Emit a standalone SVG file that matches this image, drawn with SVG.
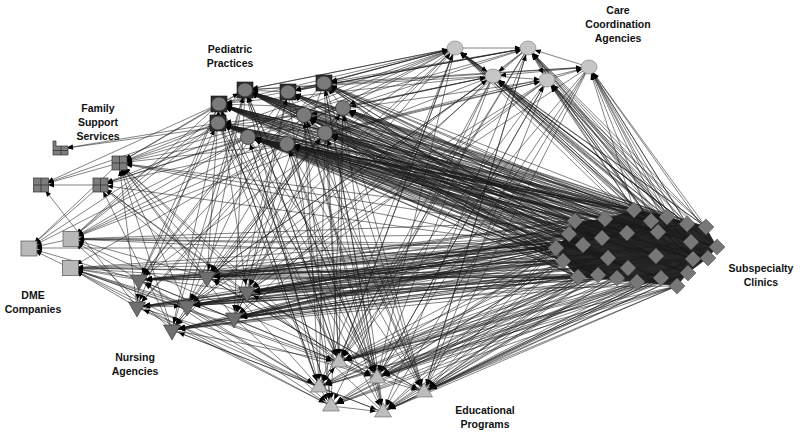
<svg xmlns="http://www.w3.org/2000/svg" xmlns:xlink="http://www.w3.org/1999/xlink" width="800" height="435" viewBox="0 0 800 435">
<style>
#edges path{fill:none;stroke:#1c1c1c;stroke-width:.55;marker-end:url(#ah)}
.lbl{font-family:"Liberation Sans",Arial,sans-serif;font-weight:bold;font-size:10.5px;fill:#111;text-anchor:middle}
.fr{fill:#2e2e2e;stroke:#111;stroke-width:.6}
.pc{fill:#7a7a7a;stroke:#2a2a2a;stroke-width:.7}
</style>
<defs>
<marker id="ah" markerWidth="6" markerHeight="5" refX="13" refY="2.5" orient="auto" markerUnits="userSpaceOnUse" overflow="visible"><path d="M0 0L6 2.5L0 5z" fill="#000"/></marker>
<polygon id="dia" points="0,-8 8,0 0,8 -8,0" fill="#777" stroke="#4a4a4a" stroke-width=".5"/>
<polygon id="tdown" points="-8.5,-5 8.5,-5 0,10" fill="#6f6f6f" stroke="#333" stroke-width=".6"/>
<polygon id="tup" points="0,-9 8.5,5 -8.5,5" fill="#bdbdbd" stroke="#666" stroke-width=".6"/>
<ellipse id="cc" rx="8" ry="7" fill="#c6c6c6" stroke="#777" stroke-width=".6"/>
<rect id="dme" x="-8" y="-7.5" width="16" height="15" fill="#b8b8b8" stroke="#555" stroke-width=".7"/>
<g id="fam"><rect x="-7.5" y="-7" width="15" height="14" fill="#7d7d7d" stroke="#333" stroke-width=".7"/><path d="M0 -7V7M-7.5 0H7.5" stroke="#333" stroke-width=".8"/></g>
</defs>
<rect width="800" height="435" fill="#fff"/>
<g id="edges">
<polygon points="556,248 569,234 575,221 605,219 634,210 667,217 706,227 717,247 708,258 688,273 677,286 637,282 578,277 563,261" fill="#111" opacity=".9" style="stroke:none"/>
<path d="M575 221L219 104"/><path d="M605 219L219 104"/><path d="M634 210L219 104"/><path d="M651 221L219 104"/><path d="M667 217L219 104"/><path d="M687 224L219 104"/><path d="M569 234L219 104"/><path d="M602 238L219 104"/><path d="M627 233L219 104"/><path d="M658 232L219 104"/><path d="M556 248L219 104"/><path d="M583 245L219 104"/><path d="M608 258L219 104"/><path d="M656 256L219 104"/><path d="M563 261L219 104"/><path d="M628 268L219 104"/><path d="M578 277L219 104"/><path d="M598 275L219 104"/><path d="M617 278L219 104"/><path d="M661 278L219 104"/>
<path d="M575 221L245 90"/><path d="M605 219L245 90"/><path d="M634 210L245 90"/><path d="M651 221L245 90"/><path d="M667 217L245 90"/><path d="M687 224L245 90"/><path d="M569 234L245 90"/><path d="M602 238L245 90"/><path d="M627 233L245 90"/><path d="M658 232L245 90"/><path d="M556 248L245 90"/><path d="M583 245L245 90"/><path d="M608 258L245 90"/><path d="M656 256L245 90"/><path d="M563 261L245 90"/><path d="M628 268L245 90"/><path d="M578 277L245 90"/><path d="M598 275L245 90"/><path d="M617 278L245 90"/><path d="M661 278L245 90"/>
<path d="M575 221L218 123"/><path d="M605 219L218 123"/><path d="M634 210L218 123"/><path d="M651 221L218 123"/><path d="M667 217L218 123"/><path d="M687 224L218 123"/><path d="M569 234L218 123"/><path d="M602 238L218 123"/><path d="M627 233L218 123"/><path d="M658 232L218 123"/><path d="M556 248L218 123"/><path d="M583 245L218 123"/><path d="M608 258L218 123"/><path d="M656 256L218 123"/><path d="M563 261L218 123"/><path d="M628 268L218 123"/><path d="M578 277L218 123"/><path d="M598 275L218 123"/><path d="M617 278L218 123"/><path d="M661 278L218 123"/>
<path d="M575 221L248 137"/><path d="M605 219L248 137"/><path d="M634 210L248 137"/><path d="M651 221L248 137"/><path d="M667 217L248 137"/><path d="M687 224L248 137"/><path d="M569 234L248 137"/><path d="M602 238L248 137"/><path d="M627 233L248 137"/><path d="M658 232L248 137"/><path d="M556 248L248 137"/><path d="M583 245L248 137"/><path d="M608 258L248 137"/><path d="M656 256L248 137"/><path d="M563 261L248 137"/><path d="M628 268L248 137"/><path d="M578 277L248 137"/><path d="M598 275L248 137"/><path d="M617 278L248 137"/><path d="M661 278L248 137"/>
<path d="M706 227L219 104"/><path d="M706 227L245 90"/><path d="M706 227L218 123"/><path d="M706 227L248 137"/><path d="M717 247L219 104"/><path d="M717 247L245 90"/><path d="M717 247L218 123"/><path d="M717 247L248 137"/><path d="M708 258L219 104"/><path d="M708 258L245 90"/><path d="M708 258L218 123"/><path d="M708 258L248 137"/><path d="M693 259L219 104"/><path d="M693 259L245 90"/><path d="M693 259L218 123"/><path d="M693 259L248 137"/><path d="M688 273L219 104"/><path d="M688 273L248 137"/>
<path d="M575 221L288 92"/><path d="M634 210L288 92"/><path d="M667 217L288 92"/><path d="M706 227L288 92"/><path d="M602 238L288 92"/><path d="M658 232L288 92"/><path d="M717 247L288 92"/><path d="M583 245L288 92"/><path d="M656 256L288 92"/><path d="M708 258L288 92"/><path d="M628 268L288 92"/><path d="M578 277L288 92"/>
<path d="M575 221L343 108"/><path d="M634 210L343 108"/><path d="M667 217L343 108"/><path d="M706 227L343 108"/><path d="M602 238L343 108"/><path d="M658 232L343 108"/><path d="M717 247L343 108"/><path d="M583 245L343 108"/><path d="M656 256L343 108"/><path d="M708 258L343 108"/><path d="M628 268L343 108"/><path d="M578 277L343 108"/>
<path d="M575 221L287 144"/><path d="M634 210L287 144"/><path d="M667 217L287 144"/><path d="M706 227L287 144"/><path d="M602 238L287 144"/><path d="M658 232L287 144"/><path d="M717 247L287 144"/><path d="M583 245L287 144"/><path d="M656 256L287 144"/><path d="M708 258L287 144"/><path d="M628 268L287 144"/><path d="M578 277L287 144"/>
<path d="M575 221L207 277"/><path d="M634 210L207 277"/><path d="M667 217L207 277"/><path d="M706 227L207 277"/><path d="M602 238L207 277"/><path d="M658 232L207 277"/><path d="M717 247L207 277"/><path d="M583 245L207 277"/><path d="M656 256L207 277"/><path d="M708 258L207 277"/><path d="M628 268L207 277"/><path d="M578 277L207 277"/>
<path d="M575 221L234 318"/><path d="M634 210L234 318"/><path d="M667 217L234 318"/><path d="M706 227L234 318"/><path d="M602 238L234 318"/><path d="M658 232L234 318"/><path d="M717 247L234 318"/><path d="M583 245L234 318"/><path d="M656 256L234 318"/><path d="M708 258L234 318"/><path d="M628 268L234 318"/><path d="M578 277L234 318"/>
<path d="M605 219L324 83"/><path d="M651 221L324 83"/><path d="M687 224L324 83"/><path d="M569 234L324 83"/><path d="M627 233L324 83"/><path d="M691 242L324 83"/><path d="M556 248L324 83"/><path d="M608 258L324 83"/><path d="M693 259L324 83"/><path d="M563 261L324 83"/><path d="M688 273L324 83"/><path d="M598 275L324 83"/>
<path d="M605 219L304 115"/><path d="M651 221L304 115"/><path d="M687 224L304 115"/><path d="M569 234L304 115"/><path d="M627 233L304 115"/><path d="M691 242L304 115"/><path d="M556 248L304 115"/><path d="M608 258L304 115"/><path d="M693 259L304 115"/><path d="M563 261L304 115"/><path d="M688 273L304 115"/><path d="M598 275L304 115"/>
<path d="M605 219L325 133"/><path d="M651 221L325 133"/><path d="M687 224L325 133"/><path d="M569 234L325 133"/><path d="M627 233L325 133"/><path d="M691 242L325 133"/><path d="M556 248L325 133"/><path d="M608 258L325 133"/><path d="M693 259L325 133"/><path d="M563 261L325 133"/><path d="M688 273L325 133"/><path d="M598 275L325 133"/>
<path d="M605 219L247 292"/><path d="M651 221L247 292"/><path d="M687 224L247 292"/><path d="M569 234L247 292"/><path d="M627 233L247 292"/><path d="M691 242L247 292"/><path d="M556 248L247 292"/><path d="M608 258L247 292"/><path d="M693 259L247 292"/><path d="M563 261L247 292"/><path d="M688 273L247 292"/><path d="M598 275L247 292"/>
<path d="M605 219L187 306"/><path d="M651 221L187 306"/><path d="M687 224L187 306"/><path d="M569 234L187 306"/><path d="M627 233L187 306"/><path d="M691 242L187 306"/><path d="M556 248L187 306"/><path d="M608 258L187 306"/><path d="M693 259L187 306"/><path d="M563 261L187 306"/><path d="M688 273L187 306"/><path d="M598 275L187 306"/>
<path d="M556 248L139 280"/><path d="M563 261L139 280"/><path d="M578 277L139 280"/><path d="M569 234L139 280"/><path d="M583 245L139 280"/><path d="M598 275L139 280"/><path d="M608 258L139 280"/><path d="M602 238L139 280"/><path d="M575 221L139 280"/><path d="M627 233L139 280"/>
<path d="M556 248L137 307"/><path d="M563 261L137 307"/><path d="M578 277L137 307"/><path d="M569 234L137 307"/><path d="M583 245L137 307"/><path d="M598 275L137 307"/><path d="M608 258L137 307"/><path d="M602 238L137 307"/>
<path d="M556 248L172 330"/><path d="M563 261L172 330"/><path d="M578 277L172 330"/><path d="M569 234L172 330"/><path d="M583 245L172 330"/><path d="M598 275L172 330"/><path d="M608 258L172 330"/><path d="M602 238L172 330"/><path d="M617 278L172 330"/><path d="M637 282L172 330"/>
<path d="M661 278L234 318"/><path d="M677 286L247 292"/><path d="M617 278L187 306"/><path d="M661 278L207 277"/>
<path d="M556 248L339 362"/><path d="M563 261L339 362"/><path d="M578 277L339 362"/><path d="M598 275L339 362"/><path d="M617 278L339 362"/><path d="M637 282L339 362"/><path d="M661 278L339 362"/><path d="M677 286L339 362"/><path d="M608 258L339 362"/><path d="M628 268L339 362"/>
<path d="M556 248L377 378"/><path d="M563 261L377 378"/><path d="M578 277L377 378"/><path d="M598 275L377 378"/><path d="M617 278L377 378"/><path d="M637 282L377 378"/><path d="M661 278L377 378"/><path d="M677 286L377 378"/><path d="M608 258L377 378"/><path d="M628 268L377 378"/>
<path d="M556 248L424 392"/><path d="M563 261L424 392"/><path d="M578 277L424 392"/><path d="M598 275L424 392"/><path d="M617 278L424 392"/><path d="M637 282L424 392"/><path d="M661 278L424 392"/><path d="M677 286L424 392"/><path d="M608 258L424 392"/><path d="M628 268L424 392"/>
<path d="M556 248L319 387"/><path d="M563 261L319 387"/><path d="M578 277L319 387"/><path d="M598 275L319 387"/><path d="M677 286L319 387"/><path d="M688 273L319 387"/>
<path d="M556 248L331 406"/><path d="M563 261L331 406"/><path d="M578 277L331 406"/><path d="M598 275L331 406"/><path d="M677 286L331 406"/><path d="M688 273L331 406"/>
<path d="M556 248L383 412"/><path d="M563 261L383 412"/><path d="M578 277L383 412"/><path d="M598 275L383 412"/><path d="M677 286L383 412"/><path d="M688 273L383 412"/>
<path d="M708 258L339 362"/><path d="M693 259L377 378"/><path d="M717 247L424 392"/><path d="M688 273L424 392"/><path d="M688 273L339 362"/><path d="M688 273L377 378"/><path d="M693 259L424 392"/><path d="M708 258L383 412"/><path d="M661 278L319 387"/><path d="M637 282L331 406"/><path d="M617 278L383 412"/><path d="M661 278L383 412"/>
<path d="M634 210L455 48"/><path d="M651 221L455 48"/><path d="M667 217L455 48"/><path d="M687 224L455 48"/><path d="M706 227L455 48"/><path d="M691 242L455 48"/><path d="M717 247L455 48"/><path d="M693 259L455 48"/><path d="M708 258L455 48"/><path d="M688 273L455 48"/>
<path d="M634 210L528 48"/><path d="M651 221L528 48"/><path d="M667 217L528 48"/><path d="M687 224L528 48"/><path d="M706 227L528 48"/><path d="M691 242L528 48"/><path d="M717 247L528 48"/><path d="M693 259L528 48"/><path d="M708 258L528 48"/><path d="M688 273L528 48"/>
<path d="M634 210L493 76"/><path d="M651 221L493 76"/><path d="M667 217L493 76"/><path d="M687 224L493 76"/><path d="M706 227L493 76"/><path d="M691 242L493 76"/><path d="M717 247L493 76"/><path d="M693 259L493 76"/><path d="M708 258L493 76"/><path d="M688 273L493 76"/>
<path d="M634 210L547 80"/><path d="M651 221L547 80"/><path d="M667 217L547 80"/><path d="M687 224L547 80"/><path d="M706 227L547 80"/><path d="M691 242L547 80"/><path d="M717 247L547 80"/><path d="M693 259L547 80"/><path d="M708 258L547 80"/><path d="M688 273L547 80"/>
<path d="M634 210L589 67"/><path d="M651 221L589 67"/><path d="M667 217L589 67"/><path d="M687 224L589 67"/><path d="M706 227L589 67"/><path d="M691 242L589 67"/><path d="M717 247L589 67"/><path d="M693 259L589 67"/><path d="M708 258L589 67"/><path d="M688 273L589 67"/>
<path d="M455 48L245 90"/><path d="M455 48L324 83"/><path d="M455 48L288 92"/><path d="M528 48L324 83"/><path d="M528 48L219 104"/><path d="M493 76L343 108"/><path d="M493 76L245 90"/><path d="M547 80L304 115"/><path d="M589 67L324 83"/><path d="M455 48L343 108"/><path d="M528 48L288 92"/><path d="M493 76L219 104"/>
<path d="M245 90L455 48"/><path d="M324 83L455 48"/><path d="M219 104L455 48"/><path d="M288 92L528 48"/><path d="M343 108L528 48"/><path d="M343 108L493 76"/><path d="M304 115L493 76"/><path d="M325 133L547 80"/><path d="M287 144L547 80"/><path d="M245 90L589 67"/><path d="M325 133L589 67"/><path d="M248 137L455 48"/>
<path d="M455 48L528 48"/><path d="M493 76L547 80"/><path d="M547 80L589 67"/><path d="M589 67L528 48"/><path d="M493 76L455 48"/><path d="M528 48L547 80"/><path d="M455 48L493 76"/><path d="M589 67L493 76"/><path d="M528 48L493 76"/>
<path d="M455 48L207 277"/><path d="M455 48L339 362"/><path d="M493 76L377 378"/><path d="M528 48L424 392"/><path d="M547 80L247 292"/><path d="M493 76L234 318"/><path d="M589 67L424 392"/><path d="M547 80L339 362"/><path d="M528 48L187 306"/><path d="M455 48L71 239"/><path d="M528 48L319 387"/><path d="M589 67L377 378"/><path d="M455 48L119 163"/>
<path d="M455 48L139 280"/><path d="M455 48L172 330"/><path d="M455 48L319 387"/><path d="M455 48L377 378"/><path d="M528 48L339 362"/><path d="M528 48L247 292"/><path d="M528 48L383 412"/><path d="M493 76L207 277"/><path d="M493 76L339 362"/><path d="M493 76L331 406"/><path d="M547 80L424 392"/><path d="M547 80L377 378"/><path d="M547 80L187 306"/><path d="M589 67L339 362"/><path d="M589 67L383 412"/><path d="M589 67L247 292"/><path d="M493 76L71 239"/><path d="M528 48L119 163"/><path d="M455 48L100 185"/><path d="M547 80L234 318"/>
<path d="M339 362L455 48"/><path d="M424 392L528 48"/><path d="M207 277L493 76"/><path d="M377 378L547 80"/><path d="M247 292L455 48"/>
<path d="M304 115L60 149"/><path d="M218 123L60 149"/>
<path d="M218 123L119 163"/><path d="M248 137L119 163"/><path d="M219 104L119 163"/><path d="M287 144L119 163"/><path d="M207 277L119 163"/><path d="M187 306L119 163"/><path d="M339 362L119 163"/><path d="M319 387L119 163"/><path d="M556 248L119 163"/><path d="M245 90L119 163"/><path d="M137 307L119 163"/><path d="M172 330L119 163"/><path d="M575 221L119 163"/><path d="M569 234L119 163"/><path d="M234 318L119 163"/><path d="M383 412L119 163"/>
<path d="M119 163L41 185"/><path d="M218 123L41 185"/><path d="M219 104L41 185"/><path d="M100 185L41 185"/><path d="M137 307L41 185"/>
<path d="M248 137L100 185"/><path d="M247 292L100 185"/><path d="M339 362L100 185"/><path d="M287 144L100 185"/><path d="M556 248L100 185"/><path d="M343 108L100 185"/><path d="M207 277L100 185"/><path d="M172 330L100 185"/>
<path d="M556 248L71 239"/><path d="M563 261L71 239"/><path d="M569 234L71 239"/><path d="M583 245L71 239"/><path d="M575 221L71 239"/>
<path d="M578 277L70 268"/><path d="M556 248L70 268"/><path d="M563 261L70 268"/><path d="M598 275L70 268"/><path d="M569 234L70 268"/>
<path d="M218 123L71 239"/><path d="M219 104L71 239"/><path d="M248 137L71 239"/><path d="M207 277L71 239"/><path d="M139 280L71 239"/><path d="M287 144L71 239"/><path d="M245 90L71 239"/><path d="M172 330L71 239"/><path d="M424 392L71 239"/>
<path d="M287 144L70 268"/><path d="M187 306L70 268"/><path d="M339 362L70 268"/><path d="M319 387L70 268"/><path d="M247 292L70 268"/><path d="M207 277L70 268"/><path d="M234 318L70 268"/><path d="M331 406L70 268"/><path d="M137 307L70 268"/><path d="M139 280L70 268"/><path d="M377 378L70 268"/>
<path d="M71 239L29 248"/><path d="M70 268L29 248"/><path d="M218 123L29 248"/><path d="M139 280L29 248"/><path d="M248 137L29 248"/><path d="M119 163L29 248"/><path d="M101 185L29 248"/><path d="M556 248L29 248"/>
<path d="M219 104L139 280"/><path d="M219 104L137 307"/><path d="M245 90L207 277"/><path d="M288 92L187 306"/><path d="M324 83L247 292"/><path d="M218 123L172 330"/><path d="M304 115L234 318"/><path d="M343 108L207 277"/><path d="M248 137L139 280"/><path d="M287 144L137 307"/><path d="M325 133L172 330"/><path d="M245 90L234 318"/><path d="M288 92L139 280"/>
<path d="M324 83L139 280"/><path d="M343 108L187 306"/><path d="M304 115L137 307"/><path d="M325 133L247 292"/><path d="M288 92L234 318"/><path d="M245 90L172 330"/><path d="M219 104L247 292"/><path d="M287 144L207 277"/>
<path d="M219 104L339 362"/><path d="M245 90L319 387"/><path d="M288 92L331 406"/><path d="M324 83L377 378"/><path d="M218 123L339 362"/><path d="M304 115L383 412"/><path d="M343 108L424 392"/><path d="M248 137L331 406"/><path d="M287 144L339 362"/><path d="M325 133L319 387"/><path d="M324 83L424 392"/><path d="M343 108L339 362"/><path d="M245 90L377 378"/><path d="M304 115L319 387"/><path d="M219 104L383 412"/><path d="M248 137L377 378"/><path d="M287 144L424 392"/><path d="M325 133L383 412"/><path d="M218 123L319 387"/>
<path d="M288 92L424 392"/><path d="M324 83L339 362"/><path d="M304 115L377 378"/><path d="M343 108L331 406"/><path d="M325 133L339 362"/><path d="M287 144L377 378"/><path d="M245 90L339 362"/><path d="M219 104L319 387"/><path d="M248 137L424 392"/><path d="M218 123L377 378"/>
<path d="M207 277L219 104"/><path d="M187 306L245 90"/><path d="M247 292L288 92"/><path d="M139 280L218 123"/><path d="M339 362L245 90"/><path d="M377 378L324 83"/><path d="M424 392L304 115"/><path d="M331 406L248 137"/><path d="M383 412L287 144"/><path d="M234 318L343 108"/><path d="M172 330L325 133"/>
<path d="M383 412L343 108"/><path d="M424 392L325 133"/><path d="M319 387L219 104"/><path d="M331 406L304 115"/><path d="M377 378L245 90"/>
<path d="M139 280L319 387"/><path d="M137 307L331 406"/><path d="M172 330L339 362"/><path d="M207 277L377 378"/><path d="M187 306L319 387"/><path d="M247 292L424 392"/><path d="M234 318L331 406"/><path d="M172 330L383 412"/><path d="M139 280L339 362"/><path d="M137 307L377 378"/><path d="M339 362L139 280"/><path d="M377 378L207 277"/><path d="M319 387L137 307"/><path d="M424 392L247 292"/><path d="M383 412L172 330"/><path d="M331 406L139 280"/>
<path d="M139 280L137 307"/><path d="M207 277L187 306"/><path d="M187 306L172 330"/><path d="M247 292L234 318"/><path d="M137 307L187 306"/><path d="M207 277L139 280"/><path d="M234 318L172 330"/><path d="M247 292L207 277"/>
<path d="M339 362L319 387"/><path d="M319 387L331 406"/><path d="M377 378L383 412"/><path d="M339 362L377 378"/><path d="M331 406L383 412"/><path d="M424 392L383 412"/><path d="M377 378L424 392"/><path d="M319 387L339 362"/>
<path d="M219 104L245 90"/><path d="M218 123L219 104"/><path d="M288 92L245 90"/><path d="M324 83L288 92"/><path d="M304 115L245 90"/><path d="M343 108L324 83"/><path d="M248 137L218 123"/><path d="M287 144L248 137"/><path d="M325 133L304 115"/><path d="M304 115L218 123"/><path d="M343 108L219 104"/><path d="M325 133L218 123"/>
</g>
<g id="pediatric-practices">
<g id="P1"><rect class="fr" x="211" y="96" width="16" height="16"/><ellipse class="pc" cx="219" cy="104" rx="7.5" ry="7"/></g>
<g id="P2"><rect class="fr" x="237" y="82" width="16" height="16"/><ellipse class="pc" cx="245" cy="90" rx="7.5" ry="7"/></g>
<g id="P3"><rect class="fr" x="280" y="84" width="16" height="16"/><ellipse class="pc" cx="288" cy="92" rx="7.5" ry="7"/></g>
<g id="P4"><rect class="fr" x="316" y="75" width="16" height="16"/><ellipse class="pc" cx="324" cy="83" rx="7.5" ry="7"/></g>
<g id="P5"><rect class="fr" x="210" y="115" width="16" height="16"/><ellipse class="pc" cx="218" cy="123" rx="7.5" ry="7"/></g>
<g id="P6"><ellipse class="pc" cx="304" cy="115" rx="7.5" ry="7.5"/></g>
<g id="P7"><ellipse class="pc" cx="343" cy="108" rx="7.5" ry="7.5"/></g>
<g id="P8"><ellipse class="pc" cx="248" cy="137" rx="7.5" ry="7.5"/></g>
<g id="P9"><ellipse class="pc" cx="287" cy="144" rx="7.5" ry="7.5"/></g>
<g id="P10"><ellipse class="pc" cx="325" cy="133" rx="7.5" ry="7.5"/></g>
</g>
<g id="care-coordination-agencies">
<g id="C1"><use xlink:href="#cc" href="#cc" x="455" y="48"/></g>
<g id="C2"><use xlink:href="#cc" href="#cc" x="528" y="48"/></g>
<g id="C3"><use xlink:href="#cc" href="#cc" x="493" y="76"/></g>
<g id="C4"><use xlink:href="#cc" href="#cc" x="547" y="80"/></g>
<g id="C5"><use xlink:href="#cc" href="#cc" x="589" y="67"/></g>
</g>
<g id="family-support-services">
<g id="F1"><path d="M53 141H56V146H68V155H53Z" fill="#7d7d7d" stroke="#333" stroke-width=".7"/><path d="M61 146V155M53 150.5H68" stroke="#333" stroke-width=".8"/></g>
<g id="F2"><use xlink:href="#fam" href="#fam" x="119.5" y="163"/></g>
<g id="F3"><use xlink:href="#fam" href="#fam" x="41" y="185"/></g>
<g id="F4"><use xlink:href="#fam" href="#fam" x="100.5" y="185"/></g>
</g>
<g id="dme-companies">
<g id="D1"><use xlink:href="#dme" href="#dme" x="29" y="248.5"/></g>
<g id="D2"><use xlink:href="#dme" href="#dme" x="71" y="239"/></g>
<g id="D3"><use xlink:href="#dme" href="#dme" x="70.5" y="268"/></g>
</g>
<g id="nursing-agencies">
<g id="N1"><use xlink:href="#tdown" href="#tdown" x="139" y="280"/></g>
<g id="N2"><use xlink:href="#tdown" href="#tdown" x="137" y="307"/></g>
<g id="N3"><use xlink:href="#tdown" href="#tdown" x="172" y="330"/></g>
<g id="N4"><use xlink:href="#tdown" href="#tdown" x="207" y="277"/></g>
<g id="N5"><use xlink:href="#tdown" href="#tdown" x="187" y="306"/></g>
<g id="N6"><use xlink:href="#tdown" href="#tdown" x="247" y="292"/></g>
<g id="N7"><use xlink:href="#tdown" href="#tdown" x="234" y="318"/></g>
</g>
<g id="educational-programs">
<g id="E1"><use xlink:href="#tup" href="#tup" x="339" y="362"/></g>
<g id="E2"><use xlink:href="#tup" href="#tup" x="319" y="387"/></g>
<g id="E3"><use xlink:href="#tup" href="#tup" x="331" y="406"/></g>
<g id="E4"><use xlink:href="#tup" href="#tup" x="377" y="378"/></g>
<g id="E5"><use xlink:href="#tup" href="#tup" x="383" y="412"/></g>
<g id="E6"><use xlink:href="#tup" href="#tup" x="424" y="392"/></g>
</g>
<g id="subspecialty-clinics">
<g id="S1"><use xlink:href="#dia" href="#dia" x="575" y="221"/></g>
<g id="S2"><use xlink:href="#dia" href="#dia" x="605" y="219"/></g>
<g id="S3"><use xlink:href="#dia" href="#dia" x="634" y="210"/></g>
<g id="S4"><use xlink:href="#dia" href="#dia" x="651" y="221"/></g>
<g id="S5"><use xlink:href="#dia" href="#dia" x="667" y="217"/></g>
<g id="S6"><use xlink:href="#dia" href="#dia" x="687" y="224"/></g>
<g id="S7"><use xlink:href="#dia" href="#dia" x="706" y="227"/></g>
<g id="S8"><use xlink:href="#dia" href="#dia" x="569" y="234"/></g>
<g id="S9"><use xlink:href="#dia" href="#dia" x="602" y="238"/></g>
<g id="S10"><use xlink:href="#dia" href="#dia" x="627" y="233"/></g>
<g id="S11"><use xlink:href="#dia" href="#dia" x="658" y="232"/></g>
<g id="S12"><use xlink:href="#dia" href="#dia" x="691" y="242"/></g>
<g id="S13"><use xlink:href="#dia" href="#dia" x="717" y="247"/></g>
<g id="S14"><use xlink:href="#dia" href="#dia" x="556" y="248"/></g>
<g id="S15"><use xlink:href="#dia" href="#dia" x="583" y="245"/></g>
<g id="S16"><use xlink:href="#dia" href="#dia" x="608" y="258"/></g>
<g id="S17"><use xlink:href="#dia" href="#dia" x="656" y="256"/></g>
<g id="S18"><use xlink:href="#dia" href="#dia" x="693" y="259"/></g>
<g id="S19"><use xlink:href="#dia" href="#dia" x="708" y="258"/></g>
<g id="S20"><use xlink:href="#dia" href="#dia" x="563" y="261"/></g>
<g id="S21"><use xlink:href="#dia" href="#dia" x="628" y="268"/></g>
<g id="S22"><use xlink:href="#dia" href="#dia" x="688" y="273"/></g>
<g id="S23"><use xlink:href="#dia" href="#dia" x="578" y="277"/></g>
<g id="S24"><use xlink:href="#dia" href="#dia" x="598" y="275"/></g>
<g id="S25"><use xlink:href="#dia" href="#dia" x="617" y="278"/></g>
<g id="S26"><use xlink:href="#dia" href="#dia" x="637" y="282"/></g>
<g id="S27"><use xlink:href="#dia" href="#dia" x="661" y="278"/></g>
<g id="S28"><use xlink:href="#dia" href="#dia" x="677" y="286"/></g>
</g>
<g id="labels" class="lbl">
<text class="lbl" x="230" y="53">Pediatric</text><text class="lbl" x="230" y="67">Practices</text>
<text class="lbl" x="98" y="112">Family</text><text class="lbl" x="98" y="126">Support</text><text class="lbl" x="98" y="140">Services</text>
<text class="lbl" x="618" y="13.5">Care</text><text class="lbl" x="618" y="27.5">Coordination</text><text class="lbl" x="618" y="41.5">Agencies</text>
<text class="lbl" x="33" y="298.5">DME</text><text class="lbl" x="33" y="312.5">Companies</text>
<text class="lbl" x="135" y="361">Nursing</text><text class="lbl" x="135" y="375">Agencies</text>
<text class="lbl" x="761" y="271.5">Subspecialty</text><text class="lbl" x="761" y="285.5">Clinics</text>
<text class="lbl" x="485" y="413.5">Educational</text><text class="lbl" x="485" y="427.5">Programs</text>
</g>
</svg>
